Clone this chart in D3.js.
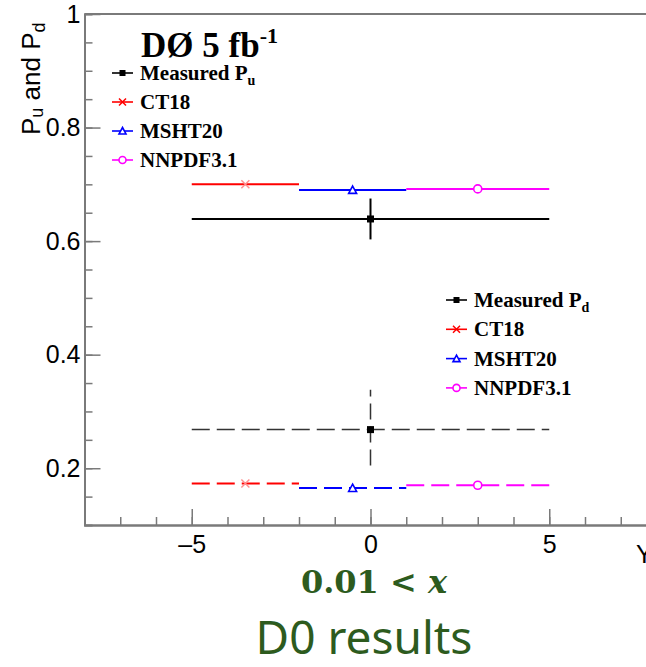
<!DOCTYPE html>
<html>
<head>
<meta charset="utf-8">
<script src="https://cdn.jsdelivr.net/npm/d3@7"></script>
<style>
body { margin: 0; background: #fff; }
svg { display: block; }
</style>
</head>
<body>
<div id="chart"></div>
<script>
// chart values
var models = ['CT18', 'MSHT20', 'NNPDF3.1'];
var binLo = [-5, -2, 1];
var binHi = [-2, 1, 5];
var markerX = [-3.5, -0.5, 3];
var puModel = [0.700, 0.690, 0.692];
var pdModel = [0.173, 0.165, 0.170];
var measRange = [-5, 5];
var measX = 0;
var measValue = [0.639, 0.268];   // P_u, P_d
var measErrDown = [0.036, 0.063];
var measErrUp = [0.036, 0.070];
var xMajorTicks = [-5, 0, 5];
var yMajorTicks = [0.2, 0.4, 0.6, 0.8, 1];

var colors = { 'CT18': '#ff0000', 'MSHT20': '#0000ff', 'NNPDF3.1': '#ff00ff' };
var shapes = { 'CT18': 'x', 'MSHT20': 'tri', 'NNPDF3.1': 'circle' };
var green = '#2d5b1e';
var axisColor = '#7a7a7a';
var dash = '18,7';

var W = 646, H = 667;
var svg = d3.select('#chart').append('svg').attr('width', W).attr('height', H);

var x = d3.scaleLinear().domain([-8, 8]).range([84.5, 656.5]);
var y = d3.scaleLinear().domain([0.1, 1]).range([525, 14]);

// axes, ticks point inwards like ROOT
function styleAxis(g) {
	g.selectAll('path, line').attr('stroke', axisColor);
	g.select('.domain').attr('stroke-width', 2);
	g.selectAll('.tick line').attr('stroke-width', 1.5);
	g.selectAll('text').attr('font-family', 'Liberation Sans, Arial, sans-serif').attr('font-size', 25).attr('fill', '#000');
}

svg.append('g').attr('transform', 'translate(0,' + y(0.1) + ')')
	.call(d3.axisBottom(x).tickValues(d3.range(-8, 9, 1)).tickSize(-8).tickFormat(''))
	.call(styleAxis);
svg.append('g').attr('transform', 'translate(0,' + y(0.1) + ')')
	.call(d3.axisBottom(x).tickValues(xMajorTicks).tickSizeInner(-16).tickSizeOuter(0).tickPadding(10)
		.tickFormat(function (d) { return d < 0 ? '\u2013' + Math.abs(d) : d; }))
	.call(styleAxis);

svg.append('g').attr('transform', 'translate(' + x(-8) + ',0)')
	.call(d3.axisLeft(y).tickValues(d3.range(0.15, 1.0, 0.05)).tickSize(-8).tickFormat(''))
	.call(styleAxis);
svg.append('g').attr('transform', 'translate(' + x(-8) + ',0)')
	.call(d3.axisLeft(y).tickValues(yMajorTicks).tickSizeInner(-16).tickSizeOuter(0).tickPadding(4)
		.tickFormat(function (d) { return d === 1 ? '1' : d3.format('.1f')(d); }))
	.call(styleAxis);

// top frame line
svg.append('line').attr('x1', x(-8)).attr('x2', x(8)).attr('y1', y(1)).attr('y2', y(1))
	.attr('stroke', axisColor).attr('stroke-width', 2);

// axis titles
var ylab = svg.append('text').attr('transform', 'translate(40,135) rotate(-90)')
	.attr('font-family', 'Liberation Sans, Arial, sans-serif').attr('font-size', 26).attr('fill', '#000');
ylab.append('tspan').text('P');
ylab.append('tspan').attr('font-size', 18).attr('dy', 3).text('u');
ylab.append('tspan').attr('dy', -3).text(' and P');
ylab.append('tspan').attr('font-size', 18).attr('dy', 5).text('d');

svg.append('text').attr('x', 636).attr('y', 563)
	.attr('font-family', 'Liberation Sans, Arial, sans-serif').attr('font-size', 25).text('Y');

function drawMarker(g, type, cx, cy, color, s) {
	if (type === 'square') {
		g.append('rect').attr('x', cx - s / 2).attr('y', cy - s / 2).attr('width', s).attr('height', s).attr('fill', color);
	} else if (type === 'x') {
		var h = s / 2;
		g.append('path').attr('d', 'M' + (cx - h) + ',' + (cy - h) + 'L' + (cx + h) + ',' + (cy + h) +
			'M' + (cx - h) + ',' + (cy + h) + 'L' + (cx + h) + ',' + (cy - h))
			.attr('stroke', color).attr('stroke-width', 1.5).attr('fill', 'none');
	} else if (type === 'tri') {
		var t = s / 2;
		g.append('path').attr('d', 'M' + cx + ',' + (cy - t) + 'L' + (cx + t) + ',' + (cy + t * 0.85) + 'L' + (cx - t) + ',' + (cy + t * 0.85) + 'Z')
			.attr('stroke', color).attr('stroke-width', 1.6).attr('fill', '#fff');
	} else {
		g.append('circle').attr('cx', cx).attr('cy', cy).attr('r', s / 2)
			.attr('stroke', color).attr('stroke-width', 1.6).attr('fill', '#fff');
	}
}

var plot = svg.append('g');

// model predictions
models.forEach(function (m, i) {
	[puModel, pdModel].forEach(function (vals, k) {
		plot.append('line')
			.attr('x1', x(binLo[i])).attr('x2', x(binHi[i]))
			.attr('y1', y(vals[i])).attr('y2', y(vals[i]))
			.attr('stroke', colors[m]).attr('stroke-width', 2)
			.attr('stroke-dasharray', k === 1 ? dash : null);
		var c = m === 'CT18' ? '#ff9090' : colors[m];
		drawMarker(plot, shapes[m], x(markerX[i]), y(vals[i]), c, 8);
	});
});

// measurements
measValue.forEach(function (v, k) {
	var col = k === 0 ? '#000' : '#333';
	var sw = k === 0 ? 2 : 1.5;
	plot.append('line')
		.attr('x1', x(measRange[0])).attr('x2', x(measRange[1]))
		.attr('y1', y(v)).attr('y2', y(v))
		.attr('stroke', col).attr('stroke-width', sw)
		.attr('stroke-dasharray', k === 1 ? dash : null);
	plot.append('line')
		.attr('x1', x(measX)).attr('x2', x(measX))
		.attr('y1', y(v - measErrDown[k])).attr('y2', y(v + measErrUp[k]))
		.attr('stroke', col).attr('stroke-width', sw)
		.attr('stroke-dasharray', k === 1 ? '16,7' : null);
	drawMarker(plot, 'square', x(measX), y(v), '#000', 7);
});

// legends
svg.append('text').attr('x', 141).attr('y', 57)
	.attr('font-family', 'Liberation Serif, Times New Roman, serif').attr('font-weight', 'bold').attr('font-size', 35)
	.text('D\u00d8 5 fb')
	.append('tspan').attr('font-size', 22).attr('dy', -14).text('-1');

function legend(x0, y0, step, sub) {
	var items = [{ label: 'Measured P', sub: sub, type: 'square', color: '#000' }].concat(
		models.map(function (m) { return { label: m, type: shapes[m], color: colors[m] }; }));
	items.forEach(function (it, i) {
		var cy = y0 + i * step;
		svg.append('line').attr('x1', x0).attr('x2', x0 + 21).attr('y1', cy).attr('y2', cy)
			.attr('stroke', it.color).attr('stroke-width', 1.6);
		drawMarker(svg, it.type, x0 + 10.5, cy, it.color, it.type === 'square' ? 6 : 7);
		var t = svg.append('text').attr('x', x0 + 28).attr('y', cy + 7)
			.attr('font-family', 'Liberation Serif, Times New Roman, serif').attr('font-weight', 'bold').attr('font-size', 21)
			.text(it.label);
		if (it.sub) t.append('tspan').attr('font-size', 14).attr('dy', 5).text(it.sub);
	});
}
legend(112, 73, 29, 'u');
legend(446, 300, 29.3, 'd');

// captions below the chart
var cap = svg.append('text').attr('x', 374).attr('y', 593).attr('text-anchor', 'middle')
	.attr('font-family', 'DejaVu Serif, serif').attr('font-weight', 'bold').attr('font-size', 32).attr('fill', green);
cap.append('tspan').text('0.01 < ');
cap.append('tspan').attr('font-style', 'italic').text('x');

svg.append('text').attr('x', 364).attr('y', 654).attr('text-anchor', 'middle')
	.attr('font-family', 'Noto Sans, Open Sans, sans-serif').attr('font-size', 46).attr('fill', green)
	.text('D0 results');
</script>
</body>
</html>
